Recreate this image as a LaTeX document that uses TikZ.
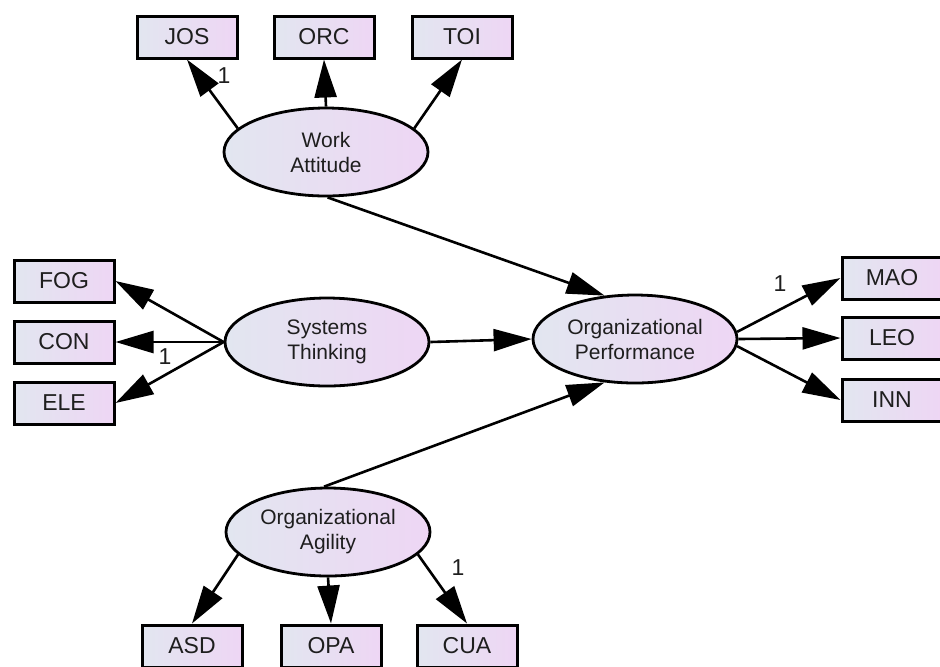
\documentclass[tikz,border=0pt]{standalone}
\usepackage{fontspec}
\setmainfont{Liberation Sans}
\usetikzlibrary{arrows.meta,shapes.geometric}
\definecolor{fillL}{HTML}{E2E6F0}
\definecolor{fillR}{HTML}{EED6F4}
\definecolor{ink}{HTML}{1E1E1E}

\begin{document}
\begin{tikzpicture}[x=0.5pt, y=-0.5pt,
		observed/.style={draw, line width=1.5pt, left color=fillL, right color=fillR, minimum width=50pt, minimum height=21pt, inner sep=0pt, text=ink, font=\fontsize{11.5}{13}\selectfont},
		latent/.style={ellipse, draw, line width=1.4pt, left color=fillL, right color=fillR, minimum width=102pt, minimum height=44pt, inner sep=0pt, align=center, text=ink, font=\fontsize{10.5}{12.5}\selectfont},
		loading/.style={line width=1.3pt, -{Triangle[length=19pt, width=11pt]}},
		one/.style={font=\fontsize{11.5}{13}\selectfont, text=ink, inner sep=0pt}]
		\useasboundingbox (0,0) rectangle (940,666);
		% latent variables
		\node[latent] (WA) at (326,152) {Work\\Attitude};
		\node[latent] (ST) at (327,342) {Systems\\Thinking};
		\node[latent] (OP) at (635,339) {Organizational\\Performance};
		\node[latent] (OA) at (328,532) {Organizational\\Agility};
		% indicators
		\node[observed] (JOS) at (187,37) {JOS};
		\node[observed] (ORC) at (324,37) {ORC};
		\node[observed] (TOI) at (462,37) {TOI};
		\node[observed] (FOG) at (64,281) {FOG};
		\node[observed] (CON) at (64,342) {CON};
		\node[observed] (ELE) at (64,403) {ELE};
		\node[observed] (MAO) at (892,278) {MAO};
		\node[observed] (LEO) at (892,338) {LEO};
		\node[observed] (INN) at (892,400) {INN};
		\node[observed] (ASD) at (192,646) {ASD};
		\node[observed] (OPA) at (331,646) {OPA};
		\node[observed] (CUA) at (467,646) {CUA};
		% loadings
		\draw[loading] (WA.165) -- (JOS.south);
		\draw[loading] (WA.north) -- (ORC.south);
		\draw[loading] (WA.15) -- (TOI.south);
		\draw[loading] (ST.west) -- (FOG.east);
		\draw[loading] (ST.west) -- (CON.east);
		\draw[loading] (ST.west) -- (ELE.east);
		\draw[loading] (OP.4) -- (MAO.west);
		\draw[loading] (OP.east) -- (LEO.west);
		\draw[loading] (OP.-4) -- (INN.west);
		\draw[loading] (OA.194) -- (ASD.north);
		\draw[loading] (OA.south) -- (OPA.north);
		\draw[loading] (OA.346) -- (CUA.north);
		% structural paths
		\draw[loading] (WA.272) -- (OP.125);
		\draw[loading] (ST.east) -- (OP.west);
		\draw[loading] (OA.95) -- (OP.235);
		% fixed loadings
		\node[one] (oneJOS) at (224,76) {1};
		\node[one] (oneCON) at (165,357) {1};
		\node[one] (oneMAO) at (780,284) {1};
		\node[one] (oneCUA) at (458,568) {1};
	\end{tikzpicture}
\end{document}
